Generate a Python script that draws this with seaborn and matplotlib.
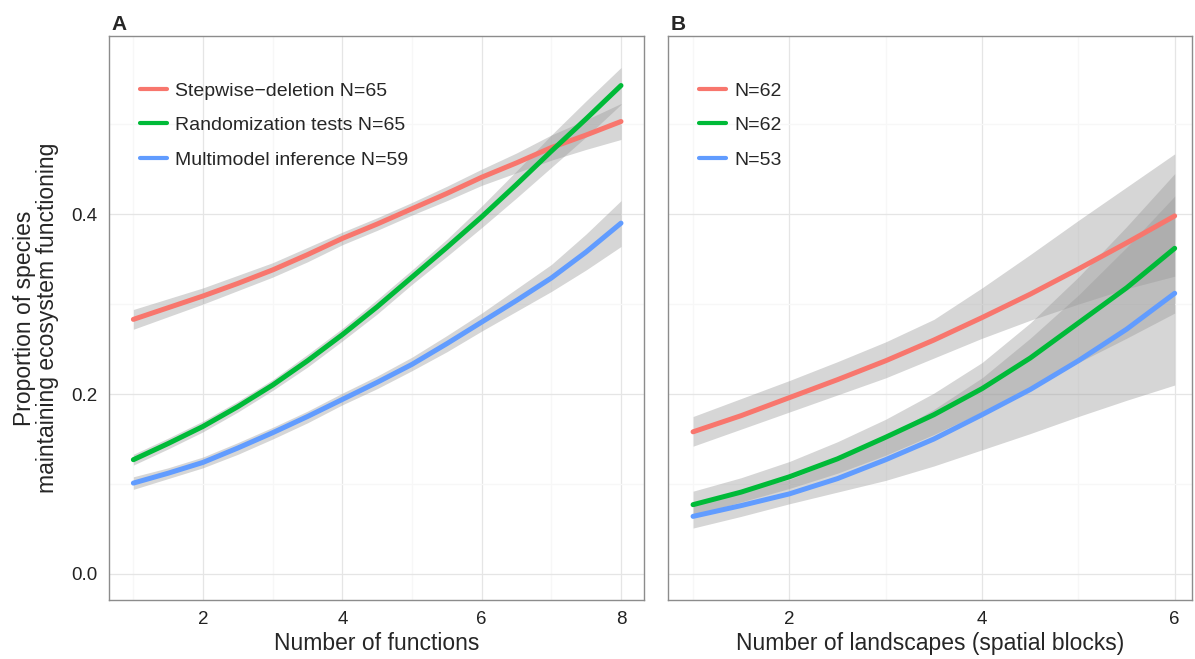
import numpy as np
import pandas as pd
import matplotlib
matplotlib.use("Agg")
import matplotlib.pyplot as plt
from matplotlib.lines import Line2D
import seaborn as sns


# panel A: number of functions (read every half unit)
funcs = [1.0, 1.5, 2.0, 2.5, 3.0, 3.5, 4.0, 4.5, 5.0, 5.5, 6.0, 6.5, 7.0, 7.5, 8.0]
step_a = [0.283, 0.296, 0.309, 0.323, 0.338, 0.355, 0.373, 0.389, 0.406,
          0.423, 0.441, 0.457, 0.474, 0.488, 0.503]
step_a_lo = [0.272, 0.286, 0.300, 0.315, 0.330, 0.347, 0.366, 0.382, 0.399,
             0.415, 0.432, 0.446, 0.460, 0.472, 0.483]
step_a_hi = [0.294, 0.306, 0.318, 0.332, 0.346, 0.363, 0.380, 0.396, 0.413,
             0.431, 0.450, 0.468, 0.488, 0.505, 0.523]
rand_a = [0.127, 0.145, 0.164, 0.186, 0.210, 0.237, 0.266, 0.297, 0.330,
          0.363, 0.397, 0.433, 0.470, 0.506, 0.543]
rand_a_lo = [0.121, 0.139, 0.158, 0.180, 0.204, 0.230, 0.259, 0.289, 0.322,
             0.353, 0.385, 0.418, 0.452, 0.486, 0.522]
rand_a_hi = [0.133, 0.151, 0.170, 0.192, 0.216, 0.244, 0.273, 0.305, 0.338,
             0.372, 0.409, 0.448, 0.488, 0.526, 0.563]
multi_a = [0.101, 0.112, 0.124, 0.140, 0.157, 0.175, 0.194, 0.213, 0.233,
           0.256, 0.280, 0.304, 0.329, 0.358, 0.390]
multi_a_lo = [0.094, 0.106, 0.118, 0.133, 0.150, 0.168, 0.188, 0.206, 0.226,
              0.247, 0.270, 0.292, 0.314, 0.338, 0.364]
multi_a_hi = [0.108, 0.118, 0.130, 0.146, 0.163, 0.181, 0.201, 0.220, 0.241,
              0.265, 0.290, 0.317, 0.344, 0.378, 0.415]

# panel B: number of landscapes (read every half unit)
lands = [1.0, 1.5, 2.0, 2.5, 3.0, 3.5, 4.0, 4.5, 5.0, 5.5, 6.0]
step_b = [0.158, 0.176, 0.196, 0.216, 0.237, 0.260, 0.285, 0.311, 0.339, 0.368, 0.398]
step_b_lo = [0.142, 0.161, 0.180, 0.199, 0.218, 0.240, 0.262, 0.282, 0.300, 0.317, 0.331]
step_b_hi = [0.175, 0.195, 0.215, 0.236, 0.258, 0.283, 0.318, 0.355, 0.393, 0.430, 0.467]
rand_b = [0.077, 0.091, 0.108, 0.128, 0.152, 0.177, 0.206, 0.240, 0.279, 0.318, 0.362]
rand_b_lo = [0.065, 0.080, 0.095, 0.112, 0.132, 0.155, 0.180, 0.207, 0.235, 0.262, 0.290]
rand_b_hi = [0.092, 0.107, 0.125, 0.147, 0.172, 0.201, 0.235, 0.279, 0.330, 0.386, 0.445]
multi_b = [0.064, 0.076, 0.089, 0.106, 0.127, 0.150, 0.177, 0.205, 0.237, 0.272, 0.312]
multi_b_lo = [0.051, 0.064, 0.078, 0.091, 0.104, 0.120, 0.138, 0.156, 0.175, 0.193, 0.210]
multi_b_hi = [0.080, 0.092, 0.105, 0.127, 0.152, 0.183, 0.218, 0.262, 0.310, 0.363, 0.420]

methods = ["Stepwise", "Randomization", "Multimodel"]
labels_a = ["Stepwise\u2212deletion N=65", "Randomization tests N=65",
            "Multimodel inference N=59"]
labels_b = ["N=62", "N=62", "N=53"]
colors = ["#F8766D", "#00BA38", "#619CFF"]


def make_frame(x, series):
    rows = []
    for name, (mid, lo, hi) in zip(methods, series):
        for xi, m, l, h in zip(x, mid, lo, hi):
            rows.append({"x": xi, "method": name, "y": m, "lo": l, "hi": h})
    return pd.DataFrame(rows)


df_a = make_frame(funcs, [(step_a, step_a_lo, step_a_hi),
                          (rand_a, rand_a_lo, rand_a_hi),
                          (multi_a, multi_a_lo, multi_a_hi)])
df_b = make_frame(lands, [(step_b, step_b_lo, step_b_hi),
                          (rand_b, rand_b_lo, rand_b_hi),
                          (multi_b, multi_b_lo, multi_b_hi)])


def style_panel(ax, xlim, xmajor, xminor):
    ax.set_facecolor("white")
    ax.set_xlim(*xlim)
    ax.set_ylim(-0.029, 0.598)
    ax.set_xticks(xmajor)
    ax.set_xticks(xminor, minor=True)
    ax.set_yticks([0.0, 0.2, 0.4])
    ax.set_yticks([0.1, 0.3, 0.5], minor=True)
    ax.grid(True, which="major", color="#e5e5e5", lw=0.9)
    ax.grid(True, which="minor", color="#f7f7f7", lw=0.9)
    ax.set_axisbelow(True)
    for sp in ax.spines.values():
        sp.set_color("#8c8c8c")
        sp.set_linewidth(1.0)
    ax.tick_params(which="major", length=5, width=1.2, color="#333333",
                   labelsize=13.5, labelcolor="#222222", pad=3)
    ax.tick_params(which="minor", length=0)


def draw_panel(ax, df, labels, width_px):
    for name in methods:
        sub = df[df["method"] == name]
        ax.fill_between(sub["x"], sub["lo"], sub["hi"], color="#999999",
                        alpha=0.4, lw=0)
    sns.lineplot(data=df, x="x", y="y", hue="method", hue_order=methods,
                 palette=colors, lw=3.6, legend=False, ax=ax)
    handles = [Line2D([0], [0], color=c, lw=3.0) for c in colors]
    ax.legend(handles, labels, loc="upper left",
              bbox_to_anchor=(31 / width_px, 0.918), frameon=False,
              fontsize=14, handlelength=1.39, handletextpad=0.42,
              labelspacing=0.86, borderaxespad=0, borderpad=0)


sns.set_theme(style="white")
plt.rcParams["font.family"] = ["Liberation Sans", "DejaVu Sans"]

fig = plt.figure(figsize=(11.95, 6.59), dpi=100)
ax_a = fig.add_axes([0.0912, 0.0895, 0.4477, 0.8558])
ax_b = fig.add_axes([0.5590, 0.0895, 0.4385, 0.8558])

draw_panel(ax_a, df_a, labels_a, 535)
draw_panel(ax_b, df_b, labels_b, 524)

style_panel(ax_a, (0.65, 8.33), [2, 4, 6, 8], [1, 3, 5, 7])
style_panel(ax_b, (0.74, 6.18), [2, 4, 6], [1, 3, 5])
ax_b.tick_params(axis="y", which="both", left=False, labelleft=False)

ax_a.set_xlabel("Number of functions", fontsize=16.5, labelpad=3)
ax_b.set_xlabel("Number of landscapes (spatial blocks)", fontsize=16.5,
                labelpad=3)
ax_a.set_ylabel("Proportion of species\nmaintaining ecosystem functioning",
                fontsize=16.5, labelpad=9, linespacing=1.0)
ax_b.set_ylabel("")

fig.text(0.0930, 0.977, "A", fontsize=15, fontweight="bold", ha="left",
         va="top")
fig.text(0.5608, 0.977, "B", fontsize=15, fontweight="bold", ha="left",
         va="top")

fig.savefig("out.png", dpi=100)
